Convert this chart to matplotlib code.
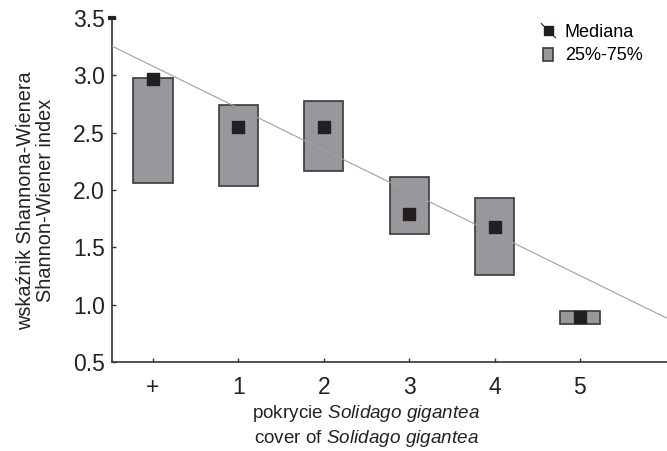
import matplotlib
matplotlib.use("Agg")
import matplotlib.pyplot as plt
from matplotlib.patches import Rectangle
from matplotlib.lines import Line2D
from matplotlib.legend_handler import HandlerBase
import numpy as np

plt.rcParams['font.family'] = ['Liberation Sans', 'DejaVu Sans']
plt.rcParams['mathtext.fontset'] = 'custom'
plt.rcParams['mathtext.rm'] = 'Liberation Sans'
plt.rcParams['mathtext.it'] = 'Liberation Sans:italic'

# data
categories = ['+', '1', '2', '3', '4', '5']
median = [2.97, 2.55, 2.55, 1.79, 1.68, 0.89]
q25 = [2.06, 2.04, 2.17, 1.62, 1.26, 0.83]
q75 = [2.98, 2.74, 2.78, 2.11, 1.93, 0.95]
# linear trend
trend_a = 3.08
trend_b = -0.365

box_fill = '#98989c'
box_edge = '#3a3a3a'
dark = '#231f20'
txt = '#222222'


class MedianHandler(HandlerBase):
    # square with a diagonal stroke, like the original legend
    def create_artists(self, legend, orig, xd, yd, w, h, fontsize, trans):
        cx, cy = xd + w / 2, yd + h / 2
        s = h * 0.75
        sq = Rectangle((cx - s / 2, cy - s / 2), s, s, facecolor=dark, edgecolor=dark, transform=trans)
        ln = Line2D([cx - s * 0.75, cx + s * 0.75], [cy + s * 0.75, cy - s * 0.75], color=dark, lw=0.8, transform=trans)
        return [sq, ln]


class BoxHandler(HandlerBase):
    def create_artists(self, legend, orig, xd, yd, w, h, fontsize, trans):
        cx, cy = xd + w / 2, yd + h / 2
        s = h * 1.0
        r = Rectangle((cx - s * 0.4, cy - s * 0.55), s * 0.8, s * 1.05, facecolor=box_fill, edgecolor=box_edge, lw=1.2, transform=trans)
        return [r]


fig = plt.figure(figsize=(6.67, 4.51), dpi=100)
ax = fig.add_axes([0.168, 0.197, 0.832, 0.763])

x = np.arange(len(categories))
width = 0.46
for xi, lo, hi in zip(x, q25, q75):
    ax.add_patch(Rectangle((xi - width / 2, lo), width, hi - lo, facecolor=box_fill,
                           edgecolor=box_edge, lw=1.2, zorder=2))

xl = np.array([-0.48, 6.02])
ax.plot(xl, trend_a + trend_b * xl, color='#a0a0a0', lw=0.8, zorder=3)

ax.scatter(x, median, marker='s', s=78, color=dark, zorder=4)

ax.set_xlim(-0.48, 6.02)
ax.set_ylim(0.5, 3.5)
ax.set_xticks(x)
ax.set_xticklabels(categories)
ax.set_yticks([0.5, 1.0, 1.5, 2.0, 2.5, 3.0, 3.5])
ax.set_yticklabels(['0.5', '1.0', '1.5', '2.0', '2.5', '3.0', '3.5'])
ax.tick_params(axis='both', direction='in', length=3, width=1, color='#333333',
               labelsize=16.5, labelcolor=txt)
ax.tick_params(axis='x', pad=10)
ax.tick_params(axis='y', pad=5)
ax.spines['top'].set_visible(False)
ax.spines['right'].set_visible(False)
for sp in ('left', 'bottom'):
    ax.spines[sp].set_color('#333333')
    ax.spines[sp].set_linewidth(1.2)

# bold cap at top of y axis
ax.plot([-0.48], [3.5], marker='_', ms=6, mew=3, color=txt, clip_on=False, zorder=5)

ax.text(2.5, -0.12, 'pokrycie $\\it{Solidago\\ gigantea}$\ncover of $\\it{Solidago\\ gigantea}$',
        transform=ax.get_xaxis_transform(), ha='center', va='top', fontsize=13.6,
        color=txt, linespacing=1.25)
ax.set_ylabel('wskaźnik Shannona-Wienera\nShannon-Wiener index', fontsize=14.3,
              color=txt, linespacing=1.1)
ax.yaxis.set_label_coords(-0.102, 0.47)

h1 = Line2D([], [])
h2 = Rectangle((0, 0), 1, 1)
ax.legend([h1, h2], ['Mediana', '25%-75%'], handler_map={h1: MedianHandler(), h2: BoxHandler()},
          loc='upper right', bbox_to_anchor=(0.985, 1.03), frameon=False, fontsize=13,
          handlelength=0.8, handletextpad=0.5, labelspacing=0.35)

fig.savefig('out.png', dpi=100)
